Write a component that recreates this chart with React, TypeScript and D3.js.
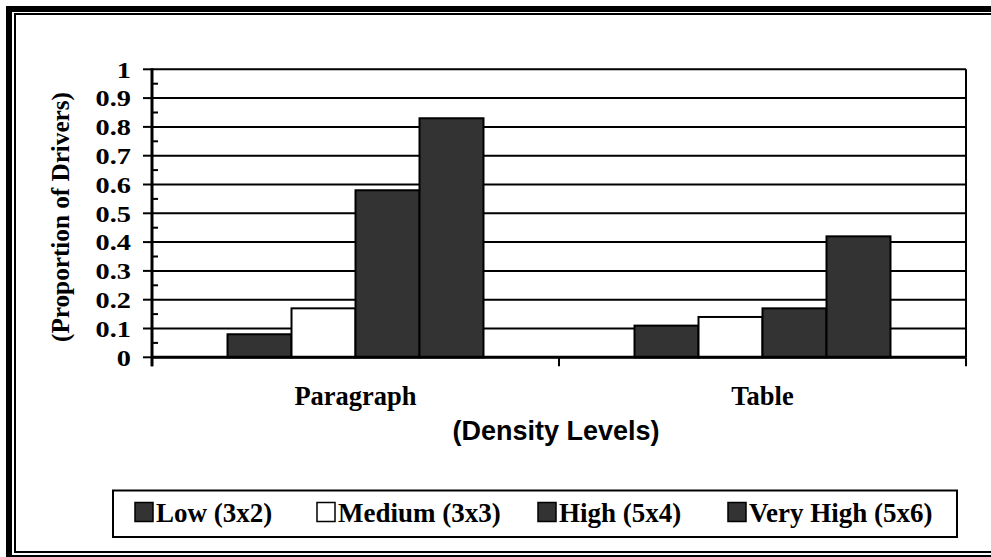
import React from "react";
import * as d3 from "d3";

const categories = ["Paragraph", "Table"];
const seriesNames = ["Low (3x2)", "Medium (3x3)", "High (5x4)", "Very High (5x6)"];
const paragraphValues = [0.08, 0.17, 0.58, 0.83];
const tableValues = [0.11, 0.14, 0.17, 0.42];
const seriesColors = ["#333333", "#ffffff", "#333333", "#333333"];
const yTicks = [0, 0.1, 0.2, 0.3, 0.4, 0.5, 0.6, 0.7, 0.8, 0.9, 1];
const yTickLabels = ["0", "0.1", "0.2", "0.3", "0.4", "0.5", "0.6", "0.7", "0.8", "0.9", "1"];
const yMinorTicks = [0.05, 0.15, 0.25, 0.35, 0.45, 0.55, 0.65, 0.75, 0.85, 0.95];

const W = 991;
const H = 557;
const PLOT = { left: 152, right: 966, top: 69.3, bottom: 357.3 };
const SERIF = "'Liberation Serif', 'Times New Roman', Times, serif";
const SANS = "'Liberation Sans', Arial, Helvetica, sans-serif";
const LEGEND_X = [135, 317, 538, 728];

export default function App() {
  const values = [paragraphValues, tableValues];
  const x0 = d3.scaleBand<string>().domain(categories).range([PLOT.left, PLOT.right]).padding(0);
  const x1 = d3
    .scaleBand<string>()
    .domain(seriesNames)
    .range([0, x0.bandwidth()])
    .paddingInner(0)
    .paddingOuter(1.18);
  const y = d3.scaleLinear().domain([0, 1]).range([PLOT.bottom, PLOT.top]);

  return (
    <svg
      width={W}
      height={H}
      viewBox={`0 0 ${W} ${H}`}
      style={{ position: "absolute", left: 0, top: 0, background: "#fff" }}
    >
      <rect x={0} y={0} width={W} height={H} fill="#fff" />
      {/* frame */}
      <rect x={9} y={9} width={1000} height={549} fill="none" stroke="#000" strokeWidth={6} />
      <rect x={15} y={14} width={990} height={538} fill="none" stroke="#000" strokeWidth={2} />

      {/* gridlines */}
      {yTicks.map((t) => (
        <line key={"g" + t} x1={PLOT.left} x2={PLOT.right} y1={y(t)} y2={y(t)} stroke="#000" strokeWidth={2} />
      ))}
      {/* plot right border */}
      <line x1={PLOT.right} x2={PLOT.right} y1={PLOT.top} y2={PLOT.bottom} stroke="#000" strokeWidth={2} />

      {/* bars */}
      {categories.map((c, ci) => (
        <g key={c} transform={`translate(${x0(c)},0)`}>
          {seriesNames.map((s, si) => (
            <rect
              key={s}
              x={x1(s)}
              y={y(values[ci][si])}
              width={x1.bandwidth()}
              height={y(0) - y(values[ci][si])}
              fill={seriesColors[si]}
              stroke="#000"
              strokeWidth={2}
            />
          ))}
        </g>
      ))}

      {/* y axis */}
      <line x1={PLOT.left} x2={PLOT.left} y1={PLOT.top - 1} y2={PLOT.bottom + 9} stroke="#000" strokeWidth={3} />
      {yTicks.map((t) => (
        <line key={"t" + t} x1={PLOT.left - 9} x2={PLOT.left} y1={y(t)} y2={y(t)} stroke="#000" strokeWidth={2} />
      ))}
      {yMinorTicks.map((t) => (
        <line key={"m" + t} x1={PLOT.left} x2={PLOT.left + 6} y1={y(t)} y2={y(t)} stroke="#000" strokeWidth={2} />
      ))}
      {yTicks.map((t, i) => (
        <text
          key={"l" + t}
          transform={`translate(131,${y(t) + 8.2}) scale(1.18,1)`}
          textAnchor="end"
          fontFamily={SERIF}
          fontWeight="bold"
          fontSize={24}
        >
          {yTickLabels[i]}
        </text>
      ))}

      {/* x axis */}
      <line x1={PLOT.left} x2={PLOT.right} y1={PLOT.bottom} y2={PLOT.bottom} stroke="#000" strokeWidth={3} />
      {[...categories.map((c) => x0(c) as number), PLOT.right].map((xv, i) => (
        <line key={"xt" + i} x1={xv} x2={xv} y1={PLOT.bottom} y2={PLOT.bottom + 9} stroke="#000" strokeWidth={2} />
      ))}
      {categories.map((c) => (
        <text
          key={"cl" + c}
          x={(x0(c) as number) + x0.bandwidth() / 2}
          y={405}
          textAnchor="middle"
          fontFamily={SERIF}
          fontWeight="bold"
          fontSize={26.5}
        >
          {c}
        </text>
      ))}

      {/* axis titles */}
      <text
        x={556}
        y={440}
        textAnchor="middle"
        fontFamily={SANS}
        fontWeight="bold"
        fontSize={27}
      >
        (Density Levels)
      </text>
      <text
        transform="translate(69,217) rotate(-90)"
        textAnchor="middle"
        fontFamily={SERIF}
        fontWeight="bold"
        fontSize={25.2}
      >
        (Proportion of Drivers)
      </text>

      {/* legend */}
      <rect x={113} y={490.5} width={844} height={46.5} fill="#fff" stroke="#000" strokeWidth={2} />
      {seriesNames.map((s, i) => (
        <g key={"lg" + s}>
          <rect
            x={LEGEND_X[i]}
            y={502.5}
            width={18}
            height={19}
            fill={seriesColors[i]}
            stroke="#000"
            strokeWidth={1.5}
          />
          <text
            x={LEGEND_X[i] + 21}
            y={522}
            fontFamily={SERIF}
            fontWeight="bold"
            fontSize={27}
          >
            {s}
          </text>
        </g>
      ))}
    </svg>
  );
}
